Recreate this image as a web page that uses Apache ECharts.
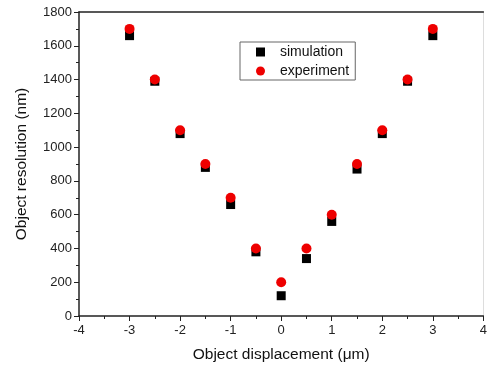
<!DOCTYPE html>
<html>
<head>
    <meta charset="utf-8">
    <title>Object resolution</title>
    <style>
        *{ margin: 0; padding: 0; box-sizing: border-box; }
        html, body, #chart{ width: 490px; height: 370px; overflow: hidden; background: #fff; }
    </style>
</head>
<body>
    <div id="chart"></div>
    <script src="https://cdn.jsdelivr.net/npm/echarts@6/dist/echarts.min.js"></script>
    <script>
        var displacement = [-3, -2.5, -2, -1.5, -1, -0.5, 0, 0.5, 1, 1.5, 2, 2.5, 3];
        var simulation = [1660, 1390, 1080, 880, 660, 380, 120, 340, 560, 870, 1080, 1390, 1660];
        var experiment = [1700, 1400, 1100, 900, 700, 400, 200, 400, 600, 900, 1100, 1400, 1700];

        function pairs(vals) {
            return displacement.map(function (x, i) { return [x, vals[i]]; });
        }

        var font = 'Liberation Sans, Arial, sans-serif';
        var chart = echarts.init(document.getElementById('chart'));

        var option = {
            animation: false,
            textStyle: { fontFamily: font },
            grid: { left: 79, right: 1, top: 12, bottom: 54 },
            legend: {
                orient: 'vertical',
                left: 240,
                top: 42,
                itemWidth: 9,
                itemHeight: 9,
                itemGap: 5,
                padding: [3, 6, 2, 16],
                borderColor: '#666',
                borderWidth: 1,
                textStyle: { fontSize: 14, color: '#111', fontFamily: font, padding: [0, 0, 0, 10] },
                data: [
                    { name: 'simulation', icon: 'rect' },
                    { name: 'experiment', icon: 'circle' }
                ]
            },
            xAxis: [{
                type: 'value',
                min: -4, max: 4, interval: 1,
                name: 'Object displacement (\u03bcm)',
                nameLocation: 'middle',
                nameGap: 31,
                nameTextStyle: { fontSize: 15.5, color: '#111' },
                axisLine: { onZero: false, lineStyle: { color: '#222', width: 1.5 } },
                axisTick: { inside: false, length: 5, lineStyle: { color: '#222' } },
                minorTick: { show: true, splitNumber: 2, length: 3, lineStyle: { color: '#222' } },
                axisLabel: { fontSize: 13, color: '#222', margin: 8 },
                splitLine: { show: false }
            }, {
                type: 'value',
                position: 'top',
                min: -4, max: 4,
                axisLine: { show: true, onZero: false, lineStyle: { color: '#222', width: 1.5 } },
                axisTick: { show: false },
                axisLabel: { show: false },
                splitLine: { show: false }
            }],
            yAxis: [{
                type: 'value',
                min: 0, max: 1800, interval: 200,
                name: 'Object resolution (nm)',
                nameLocation: 'middle',
                nameGap: 49,
                nameTextStyle: { fontSize: 15.5, color: '#111' },
                axisLine: { show: true, onZero: false, lineStyle: { color: '#222', width: 1.5 } },
                axisTick: { inside: false, length: 5, lineStyle: { color: '#222' } },
                minorTick: { show: true, splitNumber: 2, length: 3, lineStyle: { color: '#222' } },
                axisLabel: { fontSize: 13, color: '#222', margin: 7, formatter: function (v) { return String(v); } },
                splitLine: { show: false }
            }, {
                type: 'value',
                position: 'right',
                min: 0, max: 1800,
                axisLine: { show: true, onZero: false, lineStyle: { color: '#ddd', width: 1 } },
                axisTick: { show: false },
                axisLabel: { show: false },
                splitLine: { show: false }
            }],
            series: [{
                name: 'simulation',
                type: 'scatter',
                symbol: 'rect',
                symbolSize: 9,
                itemStyle: { color: '#000', opacity: 1 },
                data: pairs(simulation)
            }, {
                name: 'experiment',
                type: 'scatter',
                symbol: 'circle',
                symbolSize: 10,
                itemStyle: { color: '#ee0000', opacity: 1 },
                data: pairs(experiment)
            }]
        };

        chart.setOption(option);
    </script>
</body>
</html>
